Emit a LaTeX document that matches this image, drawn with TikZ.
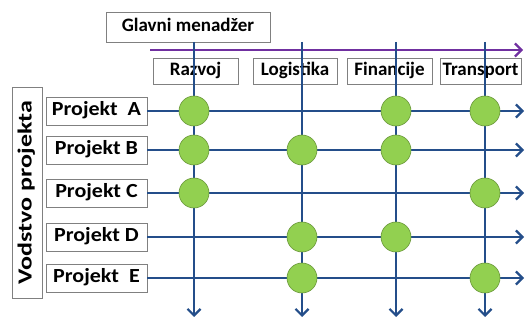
\documentclass[tikz,border=0pt]{standalone}
\usepackage{fontspec}
\setmainfont{Carlito}
\newfontfamily\wideA[FakeStretch=1.1]{Carlito}
\newfontfamily\wideB[FakeStretch=1.3]{Carlito}
\usetikzlibrary{arrows.meta}
\definecolor{lineblue}{RGB}{36,78,138}
\definecolor{purp}{RGB}{112,48,160}
\definecolor{dotgreen}{RGB}{146,208,80}
\definecolor{dotedge}{RGB}{104,150,56}
\definecolor{boxgray}{RGB}{128,128,128}
\begin{document}
\begin{tikzpicture}[x=1pt,y=-1pt,
  lbl/.style={draw=boxgray,fill=white,line width=0.8pt,inner sep=0pt,text height=13pt,text depth=4pt,font=\bfseries\fontsize{19}{19}\selectfont},
  plbl/.style={lbl,minimum width=101pt,minimum height=28pt,font=\wideA\bfseries\fontsize{20}{20}\selectfont},
  dlbl/.style={lbl,minimum height=26pt},
  flow/.style={draw=lineblue,line width=2.2pt,-{Straight Barb[length=6.5pt,width=13pt,line width=2.2pt]}},
  dot/.style={circle,fill=dotgreen,draw=dotedge,line width=0.6pt,minimum size=30pt,inner sep=0pt}]
\useasboundingbox (0,0) rectangle (525,320);
% header
\node[lbl,minimum width=164pt,minimum height=30pt] (gm) at (188,27) {Glavni menadžer};
\coordinate (ps) at (150,50);
\coordinate (pe) at (523,50);
\draw[purp,line width=2.2pt,-{Straight Barb[length=6.5pt,width=13pt,line width=2.2pt]}] (ps) -- (pe);
% department boxes
\node[dlbl,minimum width=85pt] (raz) at (195.5,71) {Razvoj};
\node[dlbl,minimum width=84pt] (log) at (295,71) {Logistika};
\node[dlbl,minimum width=85pt] (fin) at (389.5,71) {Financije};
\node[dlbl,minimum width=81pt] (tra) at (480.5,71) {Transport};
% left side
\node[lbl,rotate=90,minimum width=211pt,minimum height=30pt,text height=14pt,text depth=5pt,font=\wideB\bfseries\fontsize{20}{20}\selectfont] (vod) at (27,192.5) {Vodstvo projekta};
\node[plbl] (pa) at (96.5,111) {Projekt~~A};
\node[plbl] (pb) at (96.5,150) {Projekt B};
\node[plbl] (pc) at (96.5,193) {Projekt C};
\node[plbl] (pd) at (96.5,237) {Projekt D};
\node[plbl] (pe2) at (96.5,278) {Projekt~~E};
% column coordinates
\foreach \n/\x in {c1/194,c2/302,c3/396,c4/485}{
  \coordinate (\n t) at (\x,42);
  \coordinate (\n b) at (\x,317);
}
% row end coordinates
\foreach \n/\y in {pa/111,pb/150,pc/193,pd/237,pe2/278}{
  \coordinate (\n e) at (524,\y);
}
% horizontal flows
\foreach \n in {pa,pb,pc,pd,pe2}{
  \draw[flow] (\n.east) -- (\n e);
}
% vertical flows
\foreach \n in {c1,c2,c3,c4}{
  \draw[flow] (\n t) -- (\n b);
}
% dots
\foreach \nm/\x/\y in {d1a/194/111,d1b/194/150,d1c/194/193,
                   d2b/302/150,d2d/302/237,d2e/302/278,
                   d3a/396/111,d3b/396/150,d3d/396/237,
                   d4a/485/111,d4c/485/193,d4e/485/278}{
  \node[dot] (\nm) at (\x,\y) {};
}
\end{tikzpicture}
\end{document}
